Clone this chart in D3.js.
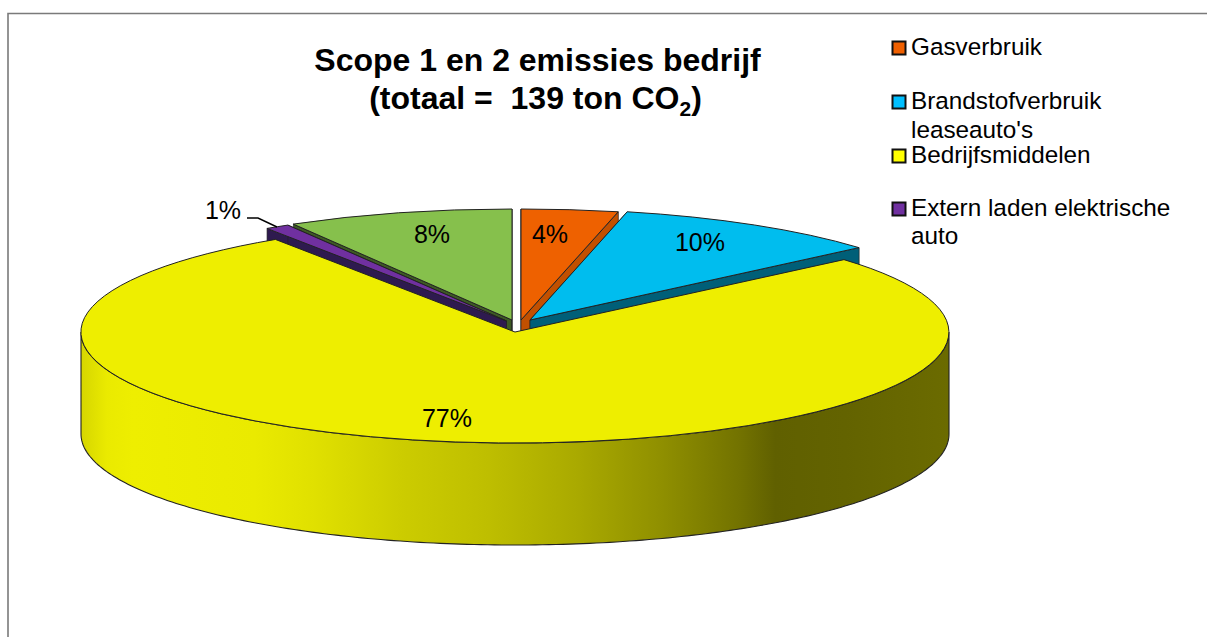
<!DOCTYPE html>
<html><head><meta charset="utf-8">
<script src="https://cdn.jsdelivr.net/npm/d3@7"></script>
<style>
html,body{margin:0;padding:0;background:#fff;overflow:hidden}
svg{display:block}
text{font-family:"Liberation Sans",Arial,sans-serif;fill:#000;white-space:pre}
</style></head><body>
<svg id="c" width="1207" height="637"></svg>
<script>
// Data
const categories = ["Gasverbruik", "Brandstofverbruik leaseauto's", "Bedrijfsmiddelen", "Extern laden elektrische auto", "Overig"];
const shares = [3.6, 10.1, 77.0, 0.9, 8.4];
const shareLabels = ["4%", "10%", "77%", "1%", "8%"];
const legendLines = [["Gasverbruik"], ["Brandstofverbruik", "leaseauto's"], ["Bedrijfsmiddelen"], ["Extern laden elektrische", "auto"]];
const titleLine1 = "Scope 1 en 2 emissies bedrijf";

// Styling / layout
const topColors = ["#ee6100", "#00bdee", "#eeee00", "#7030a0", "#86c04c"];
const wallColors = ["#c25000", "#005f78", "#eeee00", "#2e1a4f", "#3e5a24"];
const legendColors = ["#f06000", "#00bfff", "#ffff00", "#7030a0"];
const explode = [[6, -12], [15, -12], [0, 0], [-8.5, -11], [-3, -12]];
const labelAt = [[550, 243], [700, 251], [447, 427], [223, 219], [432, 243]];
const legendBaselines = [[55], [109, 138], [163], [216, 244]];
const cx = 515, cy = 332, rx = 434, ry = 111, depth = 102;

const svg = d3.select("#c");

// frame
svg.append("path").attr("d", "M8,637V13.5H1207").attr("fill", "none").attr("stroke", "#7a7a7a").attr("stroke-width", 1.6);

// side gradient
const grad = svg.append("defs").append("linearGradient").attr("id", "side")
  .attr("gradientUnits", "userSpaceOnUse").attr("x1", cx - rx).attr("x2", cx + rx).attr("y1", 0).attr("y2", 0);
[[0, "#d6d600"], [.03, "#eaea00"], [.06, "#eeee00"], [.2, "#eaea00"], [.27, "#e0e000"], [.37, "#cccc00"],
 [.47, "#bebe00"], [.57, "#aaaa00"], [.67, "#8f8f00"], [.76, "#727200"], [.8, "#606000"], [.88, "#636300"], [1, "#6b6b00"]]
  .forEach(([o, c]) => grad.append("stop").attr("offset", o).attr("stop-color", c));

const slices = d3.pie().sort(null).value(d => d)(shares);
const sx = d3.scaleLinear().domain([-1, 1]).range([-rx, rx]);
const sy = d3.scaleLinear().domain([-1, 1]).range([-ry, ry]);
const px = (a, i) => cx + explode[i][0] + sx(Math.sin(a));
const py = (a, i) => cy + explode[i][1] - sy(Math.cos(a));
const arc = d3.arc().innerRadius(0).outerRadius(1);
const line = d3.line();
const edge = "#222";
const order = [4, 0, 3, 1, 2];

order.forEach(i => {
  const s = slices[i];
  const g = svg.append("g");
  const apex = [cx + explode[i][0], cy + explode[i][1]];
  // cut faces
  if (i !== 2) {
    [s.startAngle, s.endAngle].forEach(a => {
      const o = [px(a, i), py(a, i)];
      g.append("path").attr("d", line([apex, o, [o[0], o[1] + depth], [apex[0], apex[1] + depth]]) + "Z")
        .attr("fill", wallColors[i]).attr("stroke", edge).attr("stroke-width", .7);
    });
  }
  // outer wall, front half only
  const a0 = Math.max(s.startAngle, Math.PI / 2), a1 = Math.min(s.endAngle, 3 * Math.PI / 2);
  if (a1 > a0) {
    const ang = d3.range(0, 201).map(k => a0 + (a1 - a0) * k / 200);
    const upper = ang.map(a => [px(a, i), py(a, i)]);
    const lower = ang.map(a => [px(a, i), py(a, i) + depth]).reverse();
    g.append("path").attr("d", line(upper.concat(lower)) + "Z")
      .attr("fill", "url(#side)").attr("stroke", edge).attr("stroke-width", 1.1);
  }
  // top
  g.append("path")
    .attr("transform", `translate(${apex[0]},${apex[1]}) scale(${rx},${ry})`)
    .attr("d", arc(s))
    .attr("fill", topColors[i]).attr("stroke", edge).attr("stroke-width", 1)
    .attr("vector-effect", "non-scaling-stroke");
});

// data labels
shareLabels.forEach((t, i) => {
  svg.append("text").attr("x", labelAt[i][0]).attr("y", labelAt[i][1]).attr("text-anchor", "middle")
    .attr("font-size", 25).text(t);
});
// leader of the 1% label
svg.append("path").attr("d", "M247,218H258L277,227").attr("fill", "none").attr("stroke", "#000").attr("stroke-width", 1.4);

// title
svg.append("text").attr("x", 537.5).attr("y", 71).attr("text-anchor", "middle")
  .attr("font-size", 32).attr("font-weight", "bold").text(titleLine1);
const t2 = svg.append("text").attr("x", 535.5).attr("y", 109).attr("text-anchor", "middle")
  .attr("font-size", 32).attr("font-weight", "bold");
t2.append("tspan").text("(totaal =  139 ton CO");
t2.append("tspan").attr("font-size", 21).attr("dy", 7).text("2");
t2.append("tspan").attr("dy", -7).text(")");

// legend
legendLines.forEach((lines, i) => {
  svg.append("rect").attr("x", 892.5).attr("y", legendBaselines[i][0] - 13.5).attr("width", 13).attr("height", 13)
    .attr("fill", legendColors[i]).attr("stroke", "#111").attr("stroke-width", 2);
  lines.forEach((l, k) => {
    svg.append("text").attr("x", 911).attr("y", legendBaselines[i][k]).attr("font-size", 24.3).text(l);
  });
});
</script>
</body></html>
